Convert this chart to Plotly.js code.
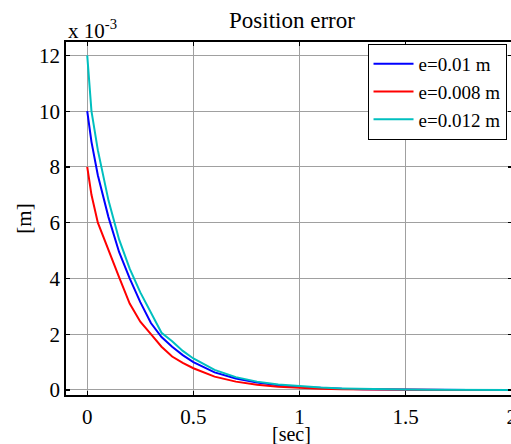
<!DOCTYPE html>
<html>
<head>
<meta charset="utf-8">
<script src="https://cdn.plot.ly/plotly-3.0.1.min.js"></script>
<style>
html,body{margin:0;padding:0;overflow:hidden;background:#fff;}
#chart{width:515px;height:444px;}
</style>
</head>
<body>
<div id="chart"></div>
<script>
// time [sec]
var timeSec = [0, 0.02, 0.05, 0.1, 0.15, 0.2, 0.25, 0.3, 0.35, 0.4, 0.45, 0.5, 0.6, 0.7, 0.8, 0.9, 1.0, 1.1, 1.2, 1.3, 1.4, 1.5, 1.6, 1.7, 1.8, 1.9, 2.0];
// position error, units of 1e-3 m
var errE010 = [10, 8.9, 7.7, 6.2, 4.95, 4.0, 3.15, 2.4, 1.9, 1.55, 1.25, 1.0, 0.63, 0.41, 0.27, 0.17, 0.11, 0.07, 0.045, 0.03, 0.02, 0.012, 0.008, 0.005, 0.003, 0.002, 0.001];
var errE008 = [8, 7.0, 6.0, 5.0, 4.05, 3.1, 2.45, 2.0, 1.55, 1.2, 0.97, 0.78, 0.48, 0.3, 0.19, 0.12, 0.075, 0.048, 0.03, 0.02, 0.013, 0.008, 0.005, 0.003, 0.002, 0.0013, 0.0008];
var errE012 = [12, 10.0, 8.6, 6.8, 5.4, 4.35, 3.5, 2.8, 2.05, 1.75, 1.4, 1.13, 0.72, 0.46, 0.3, 0.2, 0.13, 0.085, 0.055, 0.035, 0.022, 0.014, 0.009, 0.006, 0.004, 0.0025, 0.0015];
var seriesNames = ["e=0.01 m", "e=0.008 m", "e=0.012 m"];
var xTickVals = [0, 0.5, 1, 1.5, 2];
var xTickText = ["0", "0.5", "1", "1.5", "2"];
var yTickVals = [0, 2, 4, 6, 8, 10, 12];
var yTickText = ["0", "2", "4", "6", "8", "10", "12"];
var xTitle = "[sec]";
var yTitle = "[m]";
var chartTitle = "Position error";

var font = "Liberation Serif, Times New Roman, serif";
var colors = ["#0000ff", "#ff0000", "#00bfbf"];
var ys = [errE010, errE008, errE012];
var traces = ys.map(function(y, i){
  return {x: timeSec, y: y, type: "scatter", mode: "lines", name: seriesNames[i],
          line: {color: colors[i], width: 2}};
});

var axisCommon = {
  showline: true, linecolor: "#000", linewidth: 1.8, mirror: "ticks",
  ticks: "inside", ticklen: 4, tickwidth: 1.2, tickcolor: "#000",
  showgrid: true, gridcolor: "#a0a0a0", gridwidth: 1, zeroline: false,
  ticklabeloverflow: "allow",
  tickfont: {family: font, size: 21, color: "#000"}
};

var plotL = 65.5, plotR = 512.5, plotT = 42, plotB = 395.5;
var pw = plotR - plotL, ph = plotB - plotT;

var layout = {
  width: 515, height: 444,
  margin: {l: plotL, r: 515 - plotR, t: plotT, b: 444 - plotB},
  paper_bgcolor: "#fff", plot_bgcolor: "#fff",
  font: {family: font, color: "#000"},
  showlegend: true,
  title: {text: chartTitle, font: {family: font, size: 23, color: "#000"},
          x: 292/515, xanchor: "center", xref: "container", y: 1 - 20/444, yanchor: "middle", yref: "container"},
  xaxis: Object.assign({}, axisCommon, {
    range: [-0.1, 2.001], tickvals: xTickVals, ticktext: xTickText, ticklabelstandoff: 2
  }),
  yaxis: Object.assign({}, axisCommon, {
    range: [-0.18, 12.48], tickvals: yTickVals, ticktext: yTickText,
    title: {text: yTitle, font: {family: font, size: 21, color: "#000"}, standoff: 2}
  }),
  legend: {
    x: (507 - plotL) / pw, xanchor: "right", y: (plotB - 44) / ph, yanchor: "top",
    bgcolor: "#fff", bordercolor: "#000", borderwidth: 1,
    font: {family: font, size: 19, color: "#000"},
    itemwidth: 40, tracegroupgap: 0
  },
  annotations: [{
    text: "x 10<sup>-3</sup>", xref: "paper", yref: "paper", x: 0, xanchor: "left",
    y: (plotB - 29) / ph, yanchor: "middle", showarrow: false,
    font: {family: font, size: 21, color: "#000"}
  }, {
    text: xTitle, xref: "paper", yref: "paper", x: (292 - plotL) / pw, xanchor: "center",
    y: (plotB - 435) / ph, yanchor: "middle", showarrow: false,
    font: {family: font, size: 20, color: "#000"}
  }]
};

Plotly.newPlot("chart", traces, layout, {displayModeBar: false, staticPlot: true});
</script>
</body>
</html>
